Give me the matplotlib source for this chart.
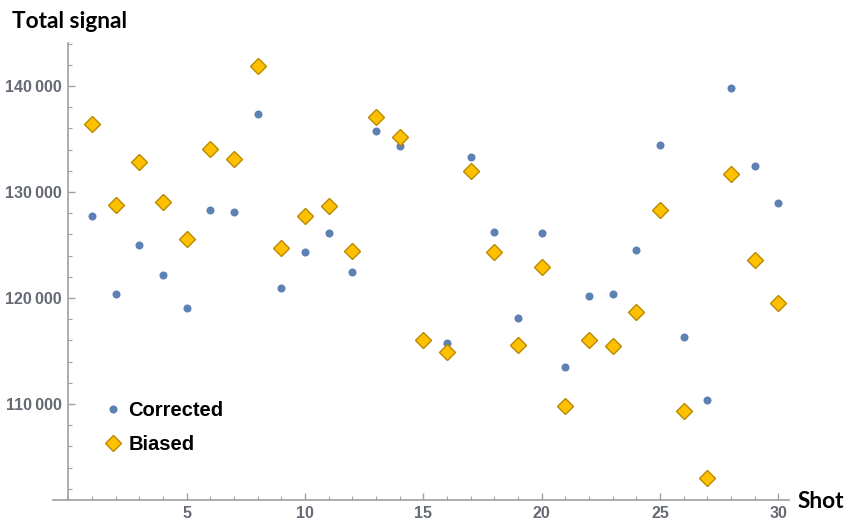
import matplotlib
matplotlib.use("Agg")
import matplotlib.pyplot as plt
from matplotlib.ticker import MultipleLocator, FuncFormatter
from matplotlib.lines import Line2D

shots = list(range(1, 31))
corrected = [127700, 120400, 125000, 122200, 119100, 128300, 128100, 137400, 120900, 124300,
             126100, 122500, 135800, 134300, 116000, 115800, 133300, 126200, 118100, 126100,
             113500, 120200, 120400, 124500, 134400, 116300, 110400, 139800, 132500, 129000]
biased = [136400, 128800, 132800, 129100, 125600, 134100, 133100, 141900, 124700, 127700,
          128700, 124400, 137100, 135200, 116000, 114900, 132000, 124300, 115600, 122900,
          109800, 116000, 115500, 118700, 128300, 109300, 103000, 131700, 123600, 119500]
x_ticks = [5, 10, 15, 20, 25, 30]
y_ticks = [110000, 120000, 130000, 140000]

fig = plt.figure(figsize=(8.5, 5.2), dpi=100)
ax = fig.add_axes([53/850, 1-500/520, (789-53)/850, (500-43)/520])

blue = '#5E81B5'
gold = '#FFC000'
gold_edge = '#B98A00'

ax.plot(shots, corrected, 'o', ms=5.8, color=blue, mec=blue, mew=0, zorder=3)
ax.plot(shots, biased, 'D', ms=8.0, color=gold, mec=gold_edge, mew=1.0, zorder=4)

ax.set_xlim(-0.65, 30.45)
ax.set_ylim(100940, 144060)

for s in ['top', 'right']:
    ax.spines[s].set_visible(False)
ax.spines['left'].set_position(('data', 0))
for s in ['left', 'bottom']:
    ax.spines[s].set_color('#a0a0a0')
    ax.spines[s].set_linewidth(1.2)

ax.xaxis.set_major_locator(plt.FixedLocator(x_ticks))
ax.xaxis.set_minor_locator(MultipleLocator(1))
ax.yaxis.set_major_locator(plt.FixedLocator(y_ticks))
ax.yaxis.set_minor_locator(MultipleLocator(2000))
ax.yaxis.set_major_formatter(FuncFormatter(lambda v, p: f"{int(v):,}".replace(',', '\u2009')))

ax.tick_params(which='both', direction='in', color='#a0a0a0', labelcolor='#666a74')
ax.tick_params(which='major', length=5, width=1)
ax.tick_params(which='minor', length=3, width=0.8)
ax.tick_params(axis='x', pad=4)
ax.tick_params(axis='y', pad=5)
for lab in ax.get_xticklabels() + ax.get_yticklabels():
    lab.set_family(['Liberation Sans', 'DejaVu Sans'])
    lab.set_weight('bold')
    lab.set_size(11.5)

title_font = dict(family=['Lato', 'DejaVu Sans'], weight='bold', size=16.3)
fig.text(12/850, 1-28/520, 'Total signal', ha='left', va='baseline', color='black', **title_font)
fig.text(798/850, 1-508/520, 'Shot', ha='left', va='baseline', color='black', **title_font)

handles = [Line2D([], [], marker='o', ls='', ms=5.8, color=blue, mew=0),
           Line2D([], [], marker='D', ls='', ms=8.0, color=gold, mec=gold_edge, mew=1.0)]
leg = ax.legend(handles, ['Corrected', 'Biased'], loc='upper left',
                bbox_to_anchor=((93-53)/736, (500-393)/457), frameon=False,
                prop=dict(family=['Liberation Sans', 'DejaVu Sans'], weight='bold', size=14.5),
                handletextpad=0.15, labelspacing=0.75, handlelength=1.2, borderaxespad=0)

fig.savefig('out.png', dpi=100)
